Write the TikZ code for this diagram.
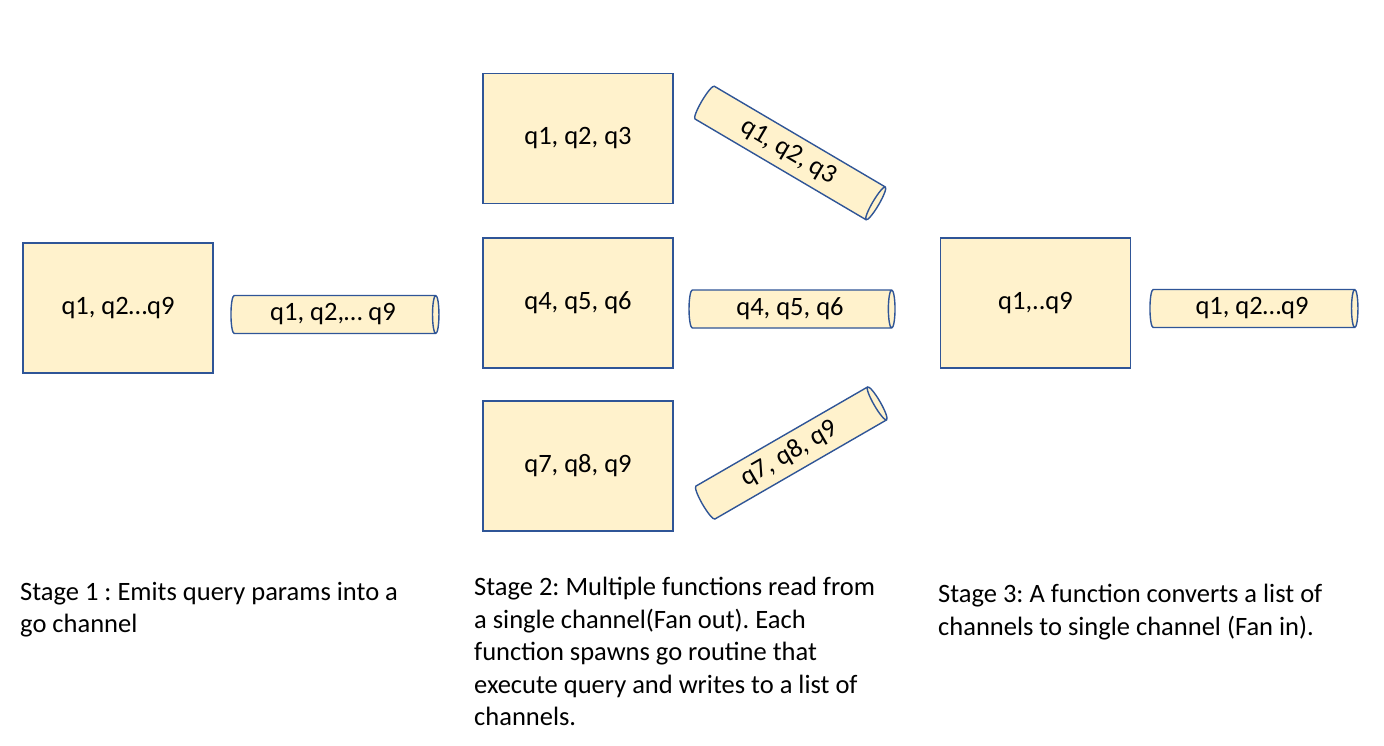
\documentclass[tikz,border=0pt]{standalone}
\usepackage{fontspec}
\setmainfont{Carlito}
\usetikzlibrary{shapes.geometric}
\frenchspacing
\definecolor{boxfill}{HTML}{FFF2CC}
\definecolor{boxline}{HTML}{2F5597}
\tikzset{
  qbox/.style={draw=boxline, fill=boxfill, line width=1.6pt, minimum width=190pt, minimum height=130pt, inner sep=0pt, font=\fontsize{26.5}{30}\selectfont},
  chan/.style={cylinder, draw=boxline, fill=boxfill, line width=1.4pt, minimum height=208pt, minimum width=38pt, aspect=0.3, inner sep=0pt, cylinder uses custom fill, cylinder body fill=boxfill, cylinder end fill=boxfill!60!white, font=\fontsize{26.5}{30}\selectfont},
  stagetext/.style={anchor=north west, align=left, inner sep=0pt, font=\fontsize{26.5}{32.5}\selectfont}
}
\begin{document}
\begin{tikzpicture}[x=1pt,y=-1pt]
\useasboundingbox (0,0) rectangle (1384,746);
% stage 1
\node[qbox] (b1) at (118,308) {q1, q2…q9};
\node[chan] (c1) at (333,314.5) {q1, q2,… q9};
% stage 2
\node[qbox] (b2) at (578,138.5) {q1, q2, q3};
\node[qbox] (b3) at (578,303) {q4, q5, q6};
\node[qbox] (b4) at (578,466) {q7, q8, q9};
\node[chan, rotate=-30.5, minimum height=205pt] (c2) at (788.5,152) {q1, q2, q3};
\node[chan, minimum height=206pt] (c3) at (790,309) {q4, q5, q6};
\node[chan, rotate=30, minimum height=205pt] (c4) at (789.5,454) {q7, q8, q9};
% stage 3
\node[qbox] (b5) at (1035.5,303) {q1,..q9};
\node[chan] (c5) at (1252,308.5) {q1, q2…q9};
% captions
\node[stagetext] (t1) at (20,582) {Stage 1 : Emits query params into a\\go channel};
\node[stagetext] (t2) at (474,577) {Stage 2: Multiple functions read from\\a single channel(Fan out). Each\\function spawns go routine that\\execute query and writes to a list of\\channels.};
\node[stagetext] (t3) at (938,584) {Stage 3: A function converts a list of\\channels to single channel (Fan in).};
\end{tikzpicture}
\end{document}
